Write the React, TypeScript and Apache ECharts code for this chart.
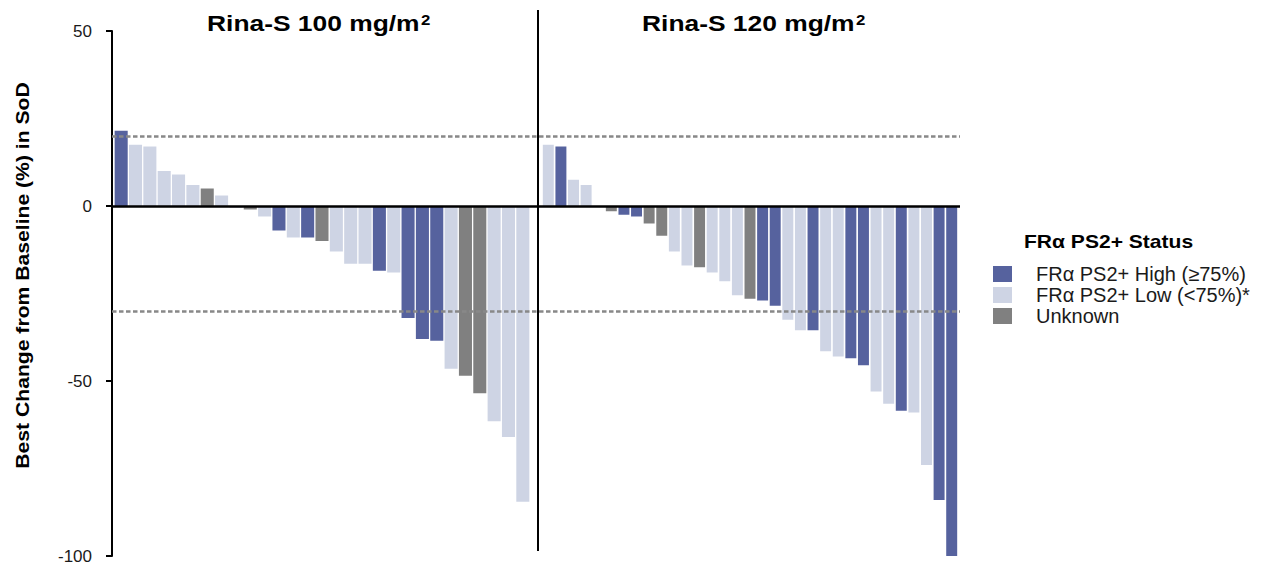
import React, { useEffect, useRef } from "react";
import * as echarts from "echarts";

// ---- Data ----
const statusKeys = ["H", "L", "U"];
const statusNames: Record<string, string> = {
  H: "FRα PS2+ High (≥75%)",
  L: "FRα PS2+ Low (<75%)*",
  U: "Unknown",
};
const statusColors: Record<string, string> = {
  H: "#56629E",
  L: "#CED4E4",
  U: "#808080",
};

// Rina-S 100 mg/m2 panel
const leftValues = [
  21.5, 17.5, 17, 10, 9, 6, 5, 3, -0.5, -1, -3, -7, -9, -9, -10, -13, -16.5, -16.5,
  -18.5, -19, -32, -38, -38.5, -46.5, -48.5, -53.5, -61.5, -66, -84.5,
];
const leftStatus = [
  "H", "L", "L", "L", "L", "L", "U", "L", "L", "U", "L", "H", "L", "H", "U", "L", "L", "L",
  "H", "L", "H", "H", "H", "L", "U", "U", "L", "L", "L",
];

// Rina-S 120 mg/m2 panel
const rightValues = [
  17.5, 17, 7.5, 6, 0, -1.5, -2.5, -3, -5, -8.5, -13, -17, -17.5, -19, -21.5, -25.5,
  -26.5, -27, -28.5, -32.5, -35.5, -35.5, -41.5, -43, -43.5, -45.5, -53, -56.5, -58.5,
  -59, -74, -84, -100,
];
const rightStatus = [
  "L", "H", "L", "L", "L", "U", "H", "H", "U", "U", "L", "L", "U", "L", "L", "L",
  "U", "H", "H", "L", "L", "H", "L", "L", "H", "H", "L", "L", "H", "L", "L", "H", "H",
];

const yTicks = { min: -100, max: 50, interval: 50 };
const refLines = { upper: 20, lower: -30 };
const panelTitles = ["Rina-S 100 mg/m", "Rina-S 120 mg/m"];
const yAxisTitle = "Best Change from Baseline (%) in SoD";
const legendTitle = "FRα PS2+ Status";

const FONT = "'Liberation Sans', Arial, Helvetica, sans-serif";

export default function App() {
  const ref = useRef<HTMLDivElement>(null);

  useEffect(() => {
    if (!ref.current) return;
    const chart = echarts.init(ref.current, undefined, { renderer: "svg" });

    const panelSeries = (
      values: number[],
      status: string[],
      idx: number,
      gap: string
    ) =>
      statusKeys.map((s) => ({
        type: "bar",
        name: statusNames[s],
        xAxisIndex: idx,
        yAxisIndex: idx,
        barGap: "-100%",
        barCategoryGap: gap,
        itemStyle: { color: statusColors[s] },
        emphasis: { disabled: true },
        data: values.map((v, i) => (status[i] === s ? v : "-")),
        z: 2,
      }));

    const hiddenY = (gridIndex: number) => ({
      type: "value",
      gridIndex,
      min: yTicks.min,
      max: yTicks.max,
      interval: yTicks.interval,
      show: false,
    });

    const option: any = {
      animation: false,
      grid: [
        { left: 112, top: 31, width: 848, height: 525 },
        { left: 114, top: 31, width: 416, height: 525 },
        { left: 542, top: 31, width: 416, height: 525 },
      ],
      xAxis: [
        { type: "category", gridIndex: 0, data: [""], show: false },
        {
          type: "category",
          gridIndex: 1,
          data: leftValues.map((_, i) => "L" + (i + 1)),
          show: false,
        },
        {
          type: "category",
          gridIndex: 2,
          data: rightValues.map((_, i) => "R" + (i + 1)),
          show: false,
        },
      ],
      yAxis: [
        {
          type: "value",
          gridIndex: 0,
          min: yTicks.min,
          max: yTicks.max,
          interval: yTicks.interval,
          axisLine: { show: true, lineStyle: { color: "#000", width: 2 } },
          axisTick: { show: true, length: 6, lineStyle: { color: "#000", width: 2 } },
          axisLabel: {
            show: true,
            margin: 20,
            fontSize: 17,
            color: "#1a1a1a",
            fontFamily: FONT,
          },
          splitLine: { show: false },
        },
        hiddenY(1),
        hiddenY(2),
      ],
      legend: {
        orient: "vertical",
        left: 993,
        top: 264,
        padding: 0,
        itemWidth: 19,
        itemHeight: 16,
        itemGap: 1,
        icon: "rect",
        selectedMode: false,
        data: statusKeys.map((s) => statusNames[s]),
        textStyle: {
          fontSize: 20,
          fontFamily: FONT,
          color: "#1a1a1a",
          padding: [0, 0, 0, 19],
        },
      },
      series: [
        ...panelSeries(leftValues, leftStatus, 1, "9%"),
        ...panelSeries(rightValues, rightStatus, 2, "13%"),
        {
          type: "line",
          name: "ref",
          xAxisIndex: 0,
          yAxisIndex: 0,
          data: [],
          z: 5,
          markLine: {
            silent: true,
            symbol: "none",
            label: { show: false },
            data: [
              {
                yAxis: refLines.upper,
                lineStyle: { color: "#888", width: 2.5, type: [4.5, 2.5] },
              },
              {
                yAxis: refLines.lower,
                lineStyle: { color: "#888", width: 2.5, type: [4.5, 2.5] },
              },
              {
                yAxis: 0,
                lineStyle: { color: "#000", width: 2.5, type: "solid" },
              },
            ],
          },
        },
      ],
      graphic: [
        {
          type: "line",
          shape: { x1: 538, y1: 10, x2: 538, y2: 551 },
          style: { stroke: "#000", lineWidth: 2 },
          z: 10,
        },
        {
          type: "text",
          x: 207,
          y: 23,
          scaleX: 1.2,
          style: {
            text: panelTitles[0],
            font: `bold 22px ${FONT}`,
            fill: "#000",
            align: "left",
            verticalAlign: "middle",
          },
        },
        {
          type: "text",
          x: 421,
          y: 20,
          scaleX: 1.2,
          style: {
            text: "2",
            font: `bold 14px ${FONT}`,
            fill: "#000",
            align: "left",
            verticalAlign: "middle",
          },
        },
        {
          type: "text",
          x: 642,
          y: 23,
          scaleX: 1.2,
          style: {
            text: panelTitles[1],
            font: `bold 22px ${FONT}`,
            fill: "#000",
            align: "left",
            verticalAlign: "middle",
          },
        },
        {
          type: "text",
          x: 856,
          y: 20,
          scaleX: 1.2,
          style: {
            text: "2",
            font: `bold 14px ${FONT}`,
            fill: "#000",
            align: "left",
            verticalAlign: "middle",
          },
        },
        {
          type: "text",
          x: 23,
          y: 275.5,
          rotation: Math.PI / 2,
          scaleX: 1.176,
          style: {
            text: yAxisTitle,
            font: `bold 18px ${FONT}`,
            fill: "#000",
            align: "center",
            verticalAlign: "middle",
          },
        },
        {
          type: "text",
          x: 1024,
          y: 242,
          scaleX: 1.17,
          style: {
            text: legendTitle,
            font: `bold 18px ${FONT}`,
            fill: "#000",
            align: "left",
            verticalAlign: "middle",
          },
        },
      ],
    };

    chart.setOption(option);
    return () => chart.dispose();
  }, []);

  return (
    <div
      ref={ref}
      style={{ position: "fixed", left: 0, top: 0, width: 1264, height: 565, background: "#fff" }}
    />
  );
}
